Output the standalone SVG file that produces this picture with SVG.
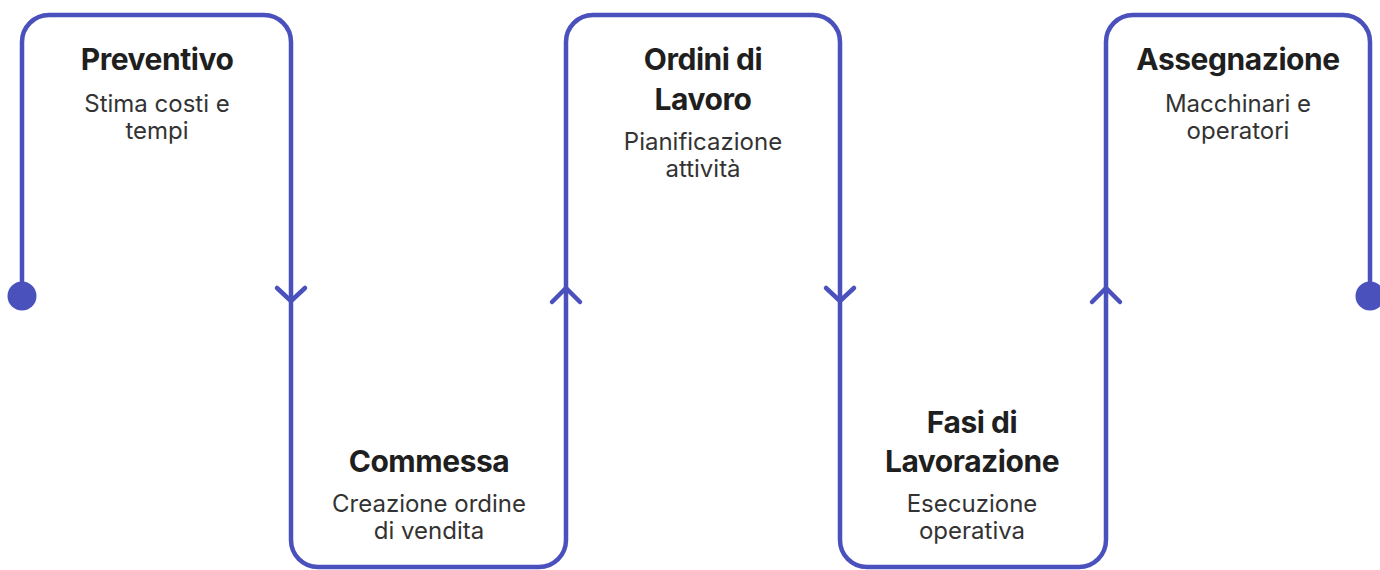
<svg xmlns="http://www.w3.org/2000/svg" width="1380" height="570" viewBox="0 0 1380 570">
<style>
.line{fill:none;stroke:#4a51bd;stroke-width:4.5;stroke-linecap:round;stroke-linejoin:round}
.dot{fill:#4a51bd}
.t{font-family:Inter,"Noto Sans","Liberation Sans",sans-serif;font-weight:700;font-size:30px;fill:#1f1f1f;text-anchor:middle;letter-spacing:-0.45px}
.s{font-family:Inter,"Noto Sans","Liberation Sans",sans-serif;font-weight:400;font-size:24px;fill:#333;text-anchor:middle}
</style>
<rect width="1380" height="570" fill="#fff"/>
<g id="connectors">
<path class="line" d="M22,296 V42 A27,27 0 0 1 49,15 H264 A27,27 0 0 1 291,42 V540 A27,27 0 0 0 318,567 H539 A27,27 0 0 0 566,540 V42 A27,27 0 0 1 593,15 H813 A27,27 0 0 1 840,42 V540 A27,27 0 0 0 867,567 H1079 A27,27 0 0 0 1106,540 V42 A27,27 0 0 1 1133,15 H1343 A27,27 0 0 1 1370,42 V296"/>
<circle class="dot" cx="22" cy="296" r="14.5"/>
<circle class="dot" cx="1370" cy="296" r="14.5"/>
<polyline class="line" points="277,288 291,301 305,288"/>
<polyline class="line" points="552,302 566,288 580,302"/>
<polyline class="line" points="826,288 840,301 854,288"/>
<polyline class="line" points="1092,302 1106,288 1120,302"/>
</g>
<g id="node-preventivo">
<text class="t" x="157" y="70">Preventivo</text>
<text class="s" x="157" y="112">Stima costi e</text>
<text class="s" x="157" y="139">tempi</text>
</g>
<g id="node-commessa">
<text class="t" x="429" y="472">Commessa</text>
<text class="s" x="429" y="512">Creazione ordine</text>
<text class="s" x="429" y="539">di vendita</text>
</g>
<g id="node-ordini">
<text class="t" x="703" y="70">Ordini di</text>
<text class="t" x="703" y="110">Lavoro</text>
<text class="s" x="703" y="150">Pianificazione</text>
<text class="s" x="703" y="177">attività</text>
</g>
<g id="node-fasi">
<text class="t" x="972" y="433">Fasi di</text>
<text class="t" x="972" y="472">Lavorazione</text>
<text class="s" x="972" y="512">Esecuzione</text>
<text class="s" x="972" y="539">operativa</text>
</g>
<g id="node-assegnazione">
<text class="t" x="1238" y="70">Assegnazione</text>
<text class="s" x="1238" y="112">Macchinari e</text>
<text class="s" x="1238" y="139">operatori</text>
</g>
</svg>
